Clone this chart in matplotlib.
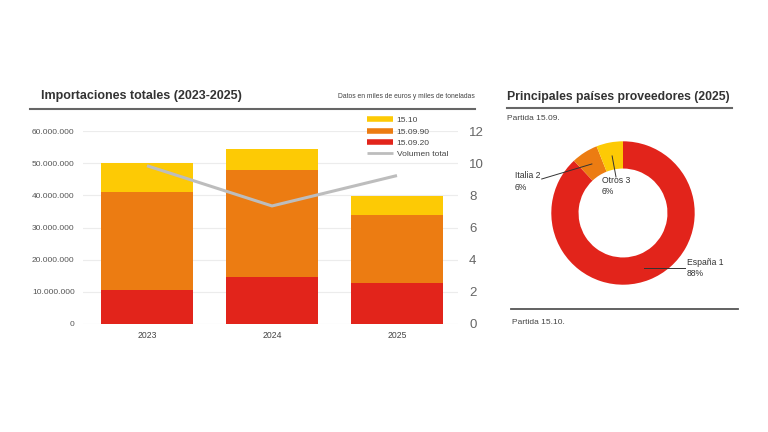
import matplotlib
matplotlib.use('Agg')
import matplotlib.pyplot as plt
import numpy as np
from matplotlib.lines import Line2D

plt.rcParams['font.family'] = ['Liberation Sans', 'DejaVu Sans']

# ---------------- data ----------------
years = ['2023', '2024', '2025']
seg_150920 = [10.5e6, 14.6e6, 12.8e6]      # red (bottom)
seg_150990 = [30.5e6, 33.3e6, 21.2e6]      # orange (middle)
seg_1510 = [9.0e6, 6.4e6, 5.8e6]           # yellow (top)
volumen_total = [9.84, 7.34, 9.23]         # right axis
left_ticks = [0, 10e6, 20e6, 30e6, 40e6, 50e6, 60e6]
left_tick_labels = ['0', '10.000.000', '20.000.000', '30.000.000',
                    '40.000.000', '50.000.000', '60.000.000']
right_ticks = [0, 2, 4, 6, 8, 10, 12]

countries = ['España 1', 'Italia 2', 'Otros 3']
shares = [88, 6, 6]

# ---------------- style ----------------
RED = '#E2241B'
ORANGE = '#EC7C12'
YELLOW = '#FDCA05'
GRAY_LINE = '#BDBDBD'
DARK = '#333333'

W, H = 768, 432
fig = plt.figure(figsize=(7.68, 4.32), dpi=100)
fig.patch.set_facecolor('white')


def fx(px):
    return px / W


def fy(py):
    return 1 - py / H


# ---------------- bar chart ----------------
ax_l, ax_r, ax_t, ax_b = 83, 458, 131, 324
ax = fig.add_axes([fx(ax_l), fy(ax_b), fx(ax_r - ax_l), (ax_b - ax_t) / H])
x = np.arange(len(years))
bw = 0.74
ax.bar(x, seg_150920, bw, color=RED, zorder=2, label='15.09.20')
ax.bar(x, seg_150990, bw, bottom=seg_150920, color=ORANGE, zorder=2,
       label='15.09.90')
bottom3 = np.array(seg_150920) + np.array(seg_150990)
ax.bar(x, seg_1510, bw, bottom=bottom3, color=YELLOW, zorder=2,
       label='15.10')
ax.set_xlim(-0.512, 2.488)
ax.set_ylim(0, 60e6)
ax.set_yticks(left_ticks)
ax.set_yticklabels(left_tick_labels)
ax.set_xticks(x)
ax.set_xticklabels(years)
ax.grid(axis='y', color='#ececec', lw=0.8, zorder=0)
ax.set_axisbelow(True)
for s in ax.spines.values():
    s.set_visible(False)
ax.tick_params(axis='y', length=0, pad=6, labelsize=6, labelcolor='#555555')
ax.tick_params(axis='x', length=0, pad=5, labelsize=6.2, labelcolor='#444444')

ax2 = ax.twinx()
ax2.plot(x, volumen_total, color=GRAY_LINE, lw=2.2, zorder=3,
         solid_capstyle='butt')
ax2.set_ylim(0, 12)
ax2.set_yticks(right_ticks)
for s in ax2.spines.values():
    s.set_visible(False)
ax2.tick_params(axis='y', length=0, pad=8, labelsize=9.5, labelcolor='#666666')

handles = [Line2D([], [], color=YELLOW, lw=4, solid_capstyle='butt'),
           Line2D([], [], color=ORANGE, lw=4, solid_capstyle='butt'),
           Line2D([], [], color=RED, lw=4, solid_capstyle='butt'),
           Line2D([], [], color=GRAY_LINE, lw=2, solid_capstyle='butt')]
labels = ['15.10', '15.09.90', '15.09.20', 'Volumen total']
leg = fig.legend(handles, labels, loc='upper left',
                 bbox_to_anchor=(fx(366.7), fy(116.5)), frameon=False,
                 fontsize=6, handlelength=3.2, handletextpad=0.4,
                 labelspacing=0.4, borderpad=0, borderaxespad=0)
for t in leg.get_texts():
    t.set_color('#444444')

# ---------------- headers ----------------
fig.text(fx(41), fy(98.5), 'Importaciones totales (2023-2025)', fontsize=9,
         fontweight='bold', color=DARK, ha='left', va='baseline')
fig.text(fx(475), fy(96), 'Datos en miles de euros y miles de toneladas',
         fontsize=4.9, color='#444444', ha='right', va='center')
fig.add_artist(Line2D([fx(30), fx(475)], [fy(109), fy(109)],
                      transform=fig.transFigure, color='#666666', lw=1.5))

fig.text(fx(506.7), fy(100), 'Principales países proveedores (2025)',
         fontsize=8.85, fontweight='bold', color=DARK, ha='left',
         va='baseline')
fig.add_artist(Line2D([fx(506.7), fx(731.7)], [fy(108.3), fy(108.3)],
                      transform=fig.transFigure, color='#666666', lw=1.5))
fig.text(fx(506.7), fy(119), 'Partida 15.09.', fontsize=6, color='#444444',
         ha='left', va='center')
fig.add_artist(Line2D([fx(510.7), fx(738.3)], [fy(309.3), fy(309.3)],
                      transform=fig.transFigure, color='#555555', lw=1.3))
fig.text(fx(511.7), fy(323), 'Partida 15.10.', fontsize=6, color='#444444',
         ha='left', va='center')

# ---------------- donut ----------------
cx, cy, R = 623, 213, 71.7
axp = fig.add_axes([fx(cx - R), fy(cy + R), 2 * R / W, 2 * R / H])
wedges, _ = axp.pie(shares, colors=[RED, ORANGE, YELLOW], startangle=90,
                    counterclock=False, radius=1,
                    wedgeprops=dict(width=0.38, linewidth=0))
axp.set_xlim(-1, 1)
axp.set_ylim(-1, 1)
axp.axis('off')


def dx(px):
    return (px - cx) / R


def dy(py):
    return (cy - py) / R


def mid_point(w, r=0.81):
    th = np.deg2rad((w.theta1 + w.theta2) / 2)
    return r * np.cos(th), r * np.sin(th)


pct = [f'{v}%' for v in shares]
# España
ex, ey = mid_point(wedges[0])
axp.plot([dx(685), ex], [dy(267.7), dy(267.7)], color=DARK, lw=0.7,
         clip_on=False)
axp.text(dx(686.7), dy(268), f'{countries[0]}\n{pct[0]}', fontsize=6.2,
         color=DARK, ha='left', va='center', linespacing=1.3)
# Italia
ix, iy = mid_point(wedges[1])
axp.plot([dx(541.7), ix], [dy(179), iy], color=DARK, lw=0.7, clip_on=False)
axp.text(dx(515), dy(181.5), f'{countries[1]}\n{pct[1]}', fontsize=6.2,
         color=DARK, ha='left', va='center', linespacing=1.3)
# Otros
ox, oy = mid_point(wedges[2])
axp.plot([dx(616), ox], [dy(177), oy], color=DARK, lw=0.7, clip_on=False)
axp.text(dx(601.7), dy(186.2), f'{countries[2]}\n{pct[2]}', fontsize=6.2,
         color=DARK, ha='left', va='center', linespacing=1.3)

fig.savefig('out.png', dpi=100, facecolor='white')
